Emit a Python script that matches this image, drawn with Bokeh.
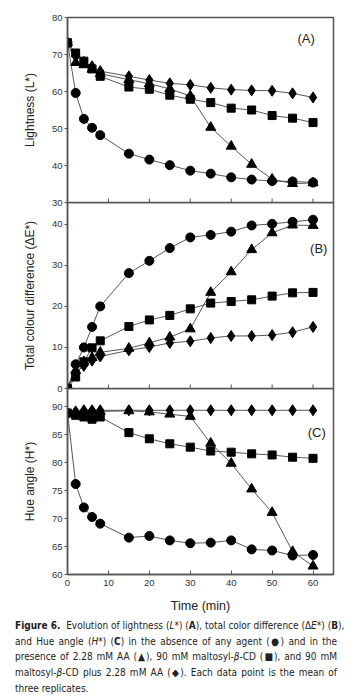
from bokeh.plotting import figure
from bokeh.layouts import column
from bokeh.models import Div, Label, Range1d, FixedTicker
from bokeh.embed import file_html
from bokeh.resources import INLINE

# ---------------- data ----------------
time = [0, 2, 4, 6, 8, 15, 20, 25, 30, 35, 40, 45, 50, 55, 60]

# (A) Lightness L*
L_none = [73.2, 59.6, 52.6, 50.2, 48.2, 43.2, 41.6, 40.1, 38.6, 37.8, 36.8, 36.2, 35.8, 35.7, 35.4]
L_aa   = [73.2, 67.8, 67.2, 66.0, 64.8, 63.2, 62.1, 60.7, 58.8, 50.3, 45.2, 40.3, 36.3, 35.1, 35.3]
L_cd   = [73.2, 70.4, 68.2, 66.1, 64.1, 61.2, 60.6, 59.0, 57.9, 57.0, 55.5, 55.0, 53.5, 52.8, 51.6]
L_cdaa = [73.2, 69.5, 68.0, 66.8, 65.5, 64.1, 63.1, 62.2, 61.8, 61.0, 60.5, 60.3, 60.2, 59.5, 58.4]

# (B) Total colour difference dE*
dE_none = [0, 5.9, 10.0, 15.0, 20.0, 28.1, 31.1, 34.2, 36.8, 37.4, 38.2, 39.7, 40.1, 40.6, 41.1]
dE_aa   = [0, 4.4, 6.5, 7.5, 8.8, 9.8, 11.1, 12.5, 14.5, 23.4, 28.4, 33.8, 37.9, 39.8, 39.7]
dE_cd   = [0, 2.8, 6.5, 9.9, 11.6, 15.1, 16.7, 17.8, 19.4, 20.8, 21.2, 21.6, 22.5, 23.3, 23.4]
dE_cdaa = [0, 4.0, 5.5, 6.8, 7.8, 9.3, 10.1, 11.1, 11.5, 12.3, 12.8, 12.8, 13.0, 13.7, 15.0]

# (C) Hue angle H*
H_none = [88.9, 76.2, 72.0, 70.3, 69.1, 66.6, 66.9, 66.1, 65.6, 65.7, 66.1, 64.5, 64.3, 63.4, 63.5]
H_aa   = [88.9, 89.0, 89.2, 89.2, 89.2, 89.3, 89.1, 88.7, 88.3, 83.5, 79.9, 75.3, 71.1, 64.1, 61.5]
H_cd   = [88.9, 88.5, 88.2, 87.8, 88.2, 85.4, 84.3, 83.4, 82.8, 82.1, 81.9, 81.6, 81.4, 81.0, 80.8]
H_cdaa = [88.9, 89.2, 89.4, 89.4, 89.4, 89.4, 89.4, 89.4, 89.4, 89.4, 89.4, 89.4, 89.4, 89.4, 89.4]

x_ticks = [0, 10, 20, 30, 40, 50, 60]
yA_ticks = [30, 40, 50, 60, 70, 80]
yB_ticks = [0, 10, 20, 30, 40]
yC_ticks = [60, 65, 70, 75, 80, 85, 90]

FONT = "Liberation Sans"
LINE_C = "#444444"
FRAME_C = "#555555"


def make_panel(yrange, yticks, ylabel, series, tag, tag_xy, height, frame_h,
               top, bottom, margin, show_x_labels):
    p = figure(width=353, height=height, output_backend="svg", toolbar_location=None,
               x_range=Range1d(0, 65), y_range=Range1d(*yrange),
               min_border_left=67, min_border_right=20,
               min_border_top=top, min_border_bottom=bottom, margin=margin)
    p.background_fill_alpha = 0
    p.border_fill_alpha = 0
    p.outline_line_color = FRAME_C
    p.outline_line_width = 1.5
    p.grid.visible = False

    ys, markers = series
    for y in ys:
        p.line(time, y, line_color=LINE_C, line_width=0.9)
    for y, (mk, sz) in zip(ys, markers):
        p.scatter(time, y, marker=mk, size=sz, fill_color="black", line_color="black")

    ya = p.yaxis[0]
    ya.ticker = FixedTicker(ticks=yticks)
    ya.axis_label = ylabel
    ya.axis_label_text_font = FONT
    ya.axis_label_text_font_style = "normal"
    ya.axis_label_text_font_size = "12px"
    ya.axis_label_text_color = "#222222"
    ya.axis_label_standoff = 12
    ya.major_label_text_font = FONT
    ya.major_label_text_font_size = "9.5px"
    ya.major_label_text_color = "#333333"
    ya.major_label_standoff = 2
    ya.major_tick_in = 0
    ya.major_tick_out = 3
    ya.minor_tick_line_color = None
    ya.axis_line_color = FRAME_C
    ya.axis_line_width = 1.5
    ya.major_tick_line_color = FRAME_C

    xa = p.xaxis[0]
    if show_x_labels:
        xa.ticker = FixedTicker(ticks=x_ticks)
        xa.major_tick_in = 4
        xa.major_tick_out = 0
        xa.minor_tick_line_color = None
        xa.axis_line_color = FRAME_C
        xa.axis_line_width = 1.5
        xa.major_tick_line_color = FRAME_C
        xa.major_label_text_font = FONT
        xa.major_label_text_font_size = "9.5px"
        xa.major_label_text_color = "#333333"
        xa.major_label_standoff = 5
        xa.axis_label = "Time (min)"
        xa.axis_label_text_font = FONT
        xa.axis_label_text_font_style = "normal"
        xa.axis_label_text_font_size = "12.5px"
        xa.axis_label_text_color = "#222222"
        xa.axis_label_standoff = 10
    else:
        # no labelled axis here: inward tick marks at the panel bottom
        xa.visible = False
        lo, hi = yrange
        tick_len = 4 * (hi - lo) / frame_h
        p.segment(x0=x_ticks, y0=[lo] * len(x_ticks), x1=x_ticks,
                  y1=[lo + tick_len] * len(x_ticks), line_color=FRAME_C, line_width=1)

    p.add_layout(Label(x=tag_xy[0], y=tag_xy[1], text=tag, text_align="center",
                       text_baseline="middle", text_font=FONT, text_font_size="13px",
                       text_color="#222222"))
    return p


mk = [("circle", 9), ("triangle", 10), ("square", 8), ("diamond", 11)]

pA = make_panel((30, 80), yA_ticks, "Lightness (L*)",
                ([L_none, L_aa, L_cd, L_cdaa], mk), "(A)", (58.3, 74.3),
                208, 185, 17, 6, (0, 0, 0, 0), False)
pB = make_panel((0, 45.3), yB_ticks, "Total colour difference (ΔE*)",
                ([dE_none, dE_aa, dE_cd, dE_cdaa], mk), "(B)", (61.4, 34.2),
                192, 186, 0, 6, (-6, 0, 0, 0), False)
pC = make_panel((60, 93.3), yC_ticks, "Hue angle (H*)",
                ([H_none, H_aa, H_cd, H_cdaa], mk), "(C)", (60.9, 85.4),
                228, 186, 0, 42, (-6, 0, 0, 0), True)

cap_lines = [
    "<b>Figure 6.</b>&nbsp; Evolution of lightness (<i>L</i>*) (<b>A</b>), total color difference (&Delta;<i>E</i>*) (<b>B</b>),",
    "and Hue angle (<i>H</i>*) (<b>C</b>) in the absence of any agent (&#9679;) and in the",
    "presence of 2.28 mM AA (&#9650;), 90 mM maltosyl-<i>&beta;</i>-CD (&#9632;), and 90 mM",
    "maltosyl-<i>&beta;</i>-CD plus 2.28 mM AA (&#9670;). Each data point is the mean of",
    "three replicates.",
]
html = "<div style=\"width:322px;margin-left:15px;padding-top:2px;font-family:'Liberation Sans Narrow','DejaVu Sans Condensed','Liberation Sans',sans-serif;font-size:10px;line-height:15.7px;color:#222;\">"
for i, ln in enumerate(cap_lines):
    last = "left" if i == len(cap_lines) - 1 else "justify"
    html += f"<div style=\"text-align:justify;text-align-last:{last};white-space:nowrap;\">{ln}</div>"
html += "</div>"
cap = Div(text=html, width=353, height=82, margin=(0, 0, 0, 0))

layout = column(pA, pB, pC, cap, spacing=0)
open("out.html", "w").write(file_html(layout, INLINE))
